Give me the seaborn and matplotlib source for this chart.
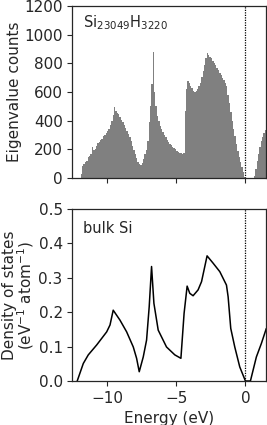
import numpy as np
import pandas as pd
import matplotlib
matplotlib.use("Agg")
import matplotlib.pyplot as plt
import seaborn as sns

# ---- data: top panel histogram (0.1 eV bins, left edges from -12.0) ----
bin_width = 0.1
bin_start = -12.0
counts = [
    0, 30, 85, 100, 115, 120, 150, 155, 165, 215,          # -12.0 .. -11.1
    195, 205, 225, 242, 250, 265, 275, 290, 300, 312,      # -11.0 .. -10.1
    325, 345, 370, 400, 440, 495, 470, 455, 445, 425,      # -10.0 .. -9.1
    405, 390, 370, 350, 330, 305, 285, 255, 225, 195,      # -9.0 .. -8.1
    170, 140, 115, 100, 92, 105, 135, 165, 195, 260,       # -8.0 .. -7.1
    390, 500, 655, 880, 600, 500, 430, 400, 365, 345,      # -7.0 .. -6.1
    320, 300, 285, 265, 250, 240, 228, 218, 210, 200,      # -6.0 .. -5.1
    190, 185, 175, 172, 170, 172, 470, 620, 680, 665,      # -5.0 .. -4.1
    640, 625, 605, 600, 610, 620, 640, 665, 705, 745,      # -4.0 .. -3.1
    790, 840, 875, 860, 845, 835, 815, 800, 785, 765,      # -3.0 .. -2.1
    750, 735, 720, 700, 685, 665, 640, 580, 520, 460,      # -2.0 .. -1.1
    400, 345, 290, 240, 190, 150, 110, 75, 40, 10,         # -1.0 .. -0.1
    0, 0, 0, 0, 0, 0, 15, 60, 120, 170,                    # 0.0 .. 0.9
    220, 255, 285, 315, 335,                               # 1.0 .. 1.4
]

# ---- data: bottom panel bulk Si DOS ----
dos_energy = [-12.15, -11.71, -11.35, -10.74, -10.02, -9.78, -9.55, -9.06,
              -8.58, -8.10, -7.86, -7.67, -7.38, -7.14, -6.95, -6.78, -6.61,
              -6.30, -5.70, -5.10, -4.66, -4.43, -4.21, -4.02, -3.78, -3.42,
              -3.17, -2.77, -2.34, -1.85, -1.37, -1.25, -1.06, -0.77, -0.41,
              0.0, 0.36, 0.79, 1.15, 1.51]
dos_value = [0.0, 0.051, 0.076, 0.105, 0.143, 0.163, 0.206, 0.177,
             0.143, 0.099, 0.066, 0.027, 0.070, 0.119, 0.216, 0.333, 0.226,
             0.148, 0.099, 0.076, 0.066, 0.197, 0.276, 0.255, 0.248, 0.265,
             0.289, 0.364, 0.343, 0.318, 0.279, 0.245, 0.153, 0.099, 0.041,
             0.0, 0.0, 0.070, 0.109, 0.153]

top_label = r"Si$_{23049}$H$_{3220}$"
bottom_label = "bulk Si"
x_ticks = [-10, -5, 0]
top_yticks = [0, 200, 400, 600, 800, 1000, 1200]
bottom_yticks = [0.0, 0.1, 0.2, 0.3, 0.4, 0.5]

# ---- build ----
sns.set_style("ticks")
plt.rcParams["font.family"] = ["DejaVu Sans"]

n = len(counts)
centers = np.round(bin_start + bin_width * (np.arange(n) + 0.5), 3)
hist_df = pd.DataFrame({"energy": centers, "count": counts})
dos_df = pd.DataFrame({"energy": dos_energy, "dos": dos_value})

fig = plt.figure(figsize=(2.67, 4.25), dpi=100)
ax1 = fig.add_axes([0.271, 0.581, 0.726, 0.405])
ax2 = fig.add_axes([0.271, 0.1035, 0.726, 0.4045])

gray = "#808080"
sns.histplot(data=hist_df, x="energy", weights="count",
             bins=n, binrange=(bin_start, bin_start + n * bin_width),
             element="step", fill=True, color=gray, alpha=1.0,
             linewidth=0, ax=ax1)
ax1.axvline(0, color="black", linestyle=(0, (1, 1)), linewidth=0.9)
ax1.set_xlim(-12.5, 1.5)
ax1.set_ylim(0, 1200)
ax1.set_xticks(x_ticks)
ax1.set_xticklabels([])
ax1.set_yticks(top_yticks)
ax1.set_xlabel("")
ax1.set_ylabel("Eigenvalue counts", fontsize=11)
ax1.yaxis.set_label_coords(-0.26, 0.5)
ax1.tick_params(labelsize=11, length=3.5, width=0.8)
ax1.text(0.055, 0.955, top_label, transform=ax1.transAxes, fontsize=10.5,
         va="top", ha="left")

sns.lineplot(data=dos_df, x="energy", y="dos", color="black",
             linewidth=1.1, ax=ax2)
ax2.axvline(0, color="black", linestyle=(0, (1, 1)), linewidth=0.9)
ax2.set_xlim(-12.5, 1.5)
ax2.set_ylim(0, 0.5)
ax2.set_xticks(x_ticks)
ax2.set_yticks(bottom_yticks)
ax2.set_xlabel("Energy (eV)", fontsize=11)
ax2.set_ylabel("Density of states\n(eV$^{-1}$ atom$^{-1}$)", fontsize=11,
               linespacing=0.95)
ax2.yaxis.set_label_coords(-0.185, 0.5)
ax2.tick_params(labelsize=11, length=3.5, width=0.8)
ax2.text(0.055, 0.93, bottom_label, transform=ax2.transAxes, fontsize=10.5,
         va="top", ha="left")

for ax in (ax1, ax2):
    for s in ax.spines.values():
        s.set_linewidth(0.9)

fig.savefig("out.png", dpi=100)
